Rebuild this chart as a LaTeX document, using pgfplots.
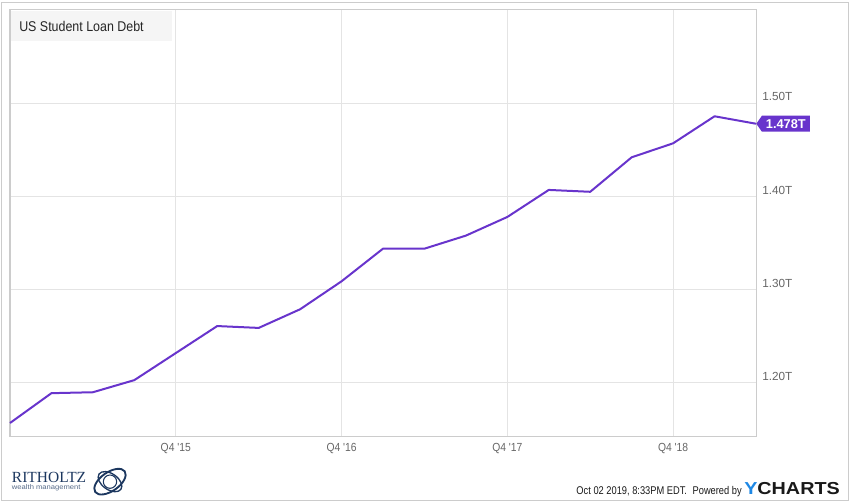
\documentclass[border=0pt]{standalone}
\usepackage{fontspec}
\setmainfont{Liberation Sans}[Ligatures=TeXOff]
\newfontfamily\narrowfont{Liberation Sans}[Ligatures=TeXOff,FakeStretch=0.88]
\newfontfamily\footfont{Liberation Sans}[Ligatures=TeXOff,FakeStretch=0.83]
\newfontfamily\widefont{Liberation Sans}[FakeStretch=1.12]
\newfontfamily\logofont{Liberation Sans}[FakeStretch=1.14]
\newfontfamily\seriffont{Liberation Serif}
\usepackage{pgfplots}
\pgfplotsset{compat=1.18}
\usetikzlibrary{shapes.symbols}
\definecolor{linepurple}{RGB}{104,52,204}
\definecolor{gridgray}{RGB}{228,228,228}
\definecolor{axisgray}{RGB}{204,204,204}
\definecolor{ticktext}{RGB}{102,102,102}
\definecolor{navy}{RGB}{28,55,95}
\definecolor{ychartsblue}{RGB}{30,136,229}
\pgfplotstableread{
q val
0 1.157
1 1.189
2 1.190
3 1.203
4 1.232
5 1.261
6 1.259
7 1.279
8 1.309
9 1.344
10 1.344
11 1.358
12 1.378
13 1.407
14 1.405
15 1.442
16 1.457
17 1.486
18 1.478
}\debt
\begin{document}
\begin{tikzpicture}[x=1pt,y=1pt]
\useasboundingbox (0,0) rectangle (637.5,377.25);
\draw[axisgray, line width=0.75pt] (0.75,1.5) rectangle (636.0,375.5);
\begin{axis}[
  at={(7.5pt,49.5pt)}, anchor=south west,
  scale only axis, width=559.5pt, height=320.25pt,
  xmin=0, xmax=18, ymin=1.142, ymax=1.600,
  axis line style={axisgray, line width=0.75pt},
  xtick={4,8,12,16},
  xticklabels={Q4 '15,Q4 '16,Q4 '17,Q4 '18},
  ytick={1.2,1.3,1.4,1.5},
  yticklabels={1.20T,1.30T,1.40T,1.50T},
  ytick pos=right, yticklabel pos=right,
  xtick pos=bottom,
  major tick length=0pt,
  grid=major,
  major grid style={gridgray, line width=0.75pt},
  xticklabel style={font=\narrowfont\fontsize{8.8}{10}\selectfont, text=ticktext, anchor=north, inner sep=0pt, yshift=-4.5pt},
  yticklabel style={font=\fontsize{8.8}{10}\selectfont, text=ticktext, anchor=south west, inner sep=0pt, xshift=4.5pt, yshift=1.5pt},
  clip=false,
]
\addplot[linepurple, line width=1.5pt, line join=round] table[x=q, y=val] {\debt};
\node[signal, signal to=west, signal pointer angle=110, fill=linepurple, text=white,
  font=\bfseries\fontsize{9.6}{10}\selectfont, anchor=west, inner xsep=3pt, inner ysep=2pt,
  minimum height=12pt] at (axis cs:18,1.478) {1.478T};
\end{axis}
% title box
\fill[black!4] (8.25,346.5) rectangle (129,368.8);
\node[anchor=west, inner sep=0pt, font=\narrowfont\fontsize{10.6}{12}\selectfont, text=black!85] at (14.25,357.75) {US Student Loan Debt};
% Ritholtz logo
\node[anchor=base west, inner sep=0pt, font=\seriffont\fontsize{11.6}{12}\selectfont, text=navy] at (8.8,15.5) {RITHOLTZ};
\node[anchor=base west, inner sep=0pt, font=\widefont\fontsize{5.1}{6}\selectfont, text=navy!75] at (8.8,10.3) {wealth management};
\begin{scope}[shift={(82.5,16)}, navy, line width=1.4pt]
  \draw[rotate=35] (0,0) ellipse (13.5pt and 7pt);
  \draw[rotate=-35, line width=1pt] (0,0) ellipse (10pt and 6pt);
  \draw[line width=0.8pt] (0,0) circle (5pt);
\end{scope}
% footer
\node[anchor=base east, inner sep=0pt, font=\footfont\fontsize{8.4}{10}\selectfont, text=black!90] at (556.5,6.5) {Oct 02 2019, 8:33PM EDT.\enspace Powered by};
\node[anchor=base west, inner sep=0pt, font=\logofont\bfseries\fontsize{13}{14}\selectfont] at (558,6.3) {\textcolor{ychartsblue}{Y}\textcolor{black!90}{CHARTS}};
\end{tikzpicture}
\end{document}
